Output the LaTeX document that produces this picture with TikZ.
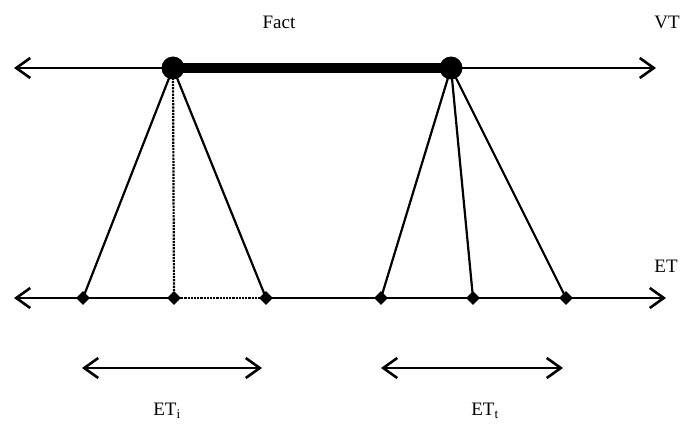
\documentclass[tikz,border=0pt]{standalone}
\usepackage{fontspec}
\setmainfont{Liberation Serif}
\usetikzlibrary{positioning,arrows.meta,shapes.geometric}

\begin{document}
\begin{tikzpicture}[
  x=1pt, y=-1pt,
  font=\fontsize{19}{22}\selectfont,
  tarr/.style={{Straight Barb[length=14pt,width=20pt,line width=2.6pt]}-{Straight Barb[length=14pt,width=20pt,line width=2.6pt]}, line width=2.4pt},
  bigdot/.style={circle, fill, inner sep=0pt, minimum size=23pt},
  tick/.style={diamond, fill, inner sep=0pt, minimum size=14pt},
  fline/.style={line width=2.2pt},
  dline/.style={line width=2.2pt, densely dotted}
]
  \useasboundingbox (0,0) rectangle (686,428);

  % time lines
  \coordinate (vl) at (14,68);
  \coordinate (vr) at (656,68);
  \coordinate (el) at (14,298);
  \coordinate (er) at (666,298);

  \node[bigdot] (fa) at (173,68) {};
  \node[bigdot] (fb) at (451,68) {};

  \node[tick] (e1) at (83,298) {};
  \node[tick] (e2) at (174,298) {};
  \node[tick] (e3) at (266,298) {};
  \node[tick] (e4) at (381,298) {};
  \node[tick] (e5) at (473,298) {};
  \node[tick] (e6) at (566,298) {};

  \draw[tarr] (vl) -- (vr);
  \draw[line width=10pt] (fa.center) -- (fb.center);
  \draw[tarr] (el) -- (er);
  \draw[white, line width=3.5pt] (e2.east) -- (e3.west);
  \draw[dline] (e2.east) -- (e3.west);

  % links
  \draw[fline] (fa.center) -- (e1.center);
  \draw[dline] (fa.center) -- (e2.center);
  \draw[fline] (fa.center) -- (e3.center);
  \draw[fline] (fb.center) -- (e4.center);
  \draw[fline] (fb.center) -- (e5.center);
  \draw[fline] (fb.center) -- (e6.center);

  % intervals
  \coordinate (i1) at (82,368);
  \coordinate (i2) at (262,368);
  \coordinate (t1) at (381,368);
  \coordinate (t2) at (563,368);
  \draw[tarr] (i1) -- (i2);
  \draw[tarr] (t1) -- (t2);

  % labels
  \node (fact) at (279,22) {Fact};
  \node (vt) at (667,22) {VT};
  \node (et) at (666,266) {ET};
  \node (eti) at (167,411) {ET\textsubscript{i}};
  \node (ett) at (485,411) {ET\textsubscript{t}};
\end{tikzpicture}
\end{document}
